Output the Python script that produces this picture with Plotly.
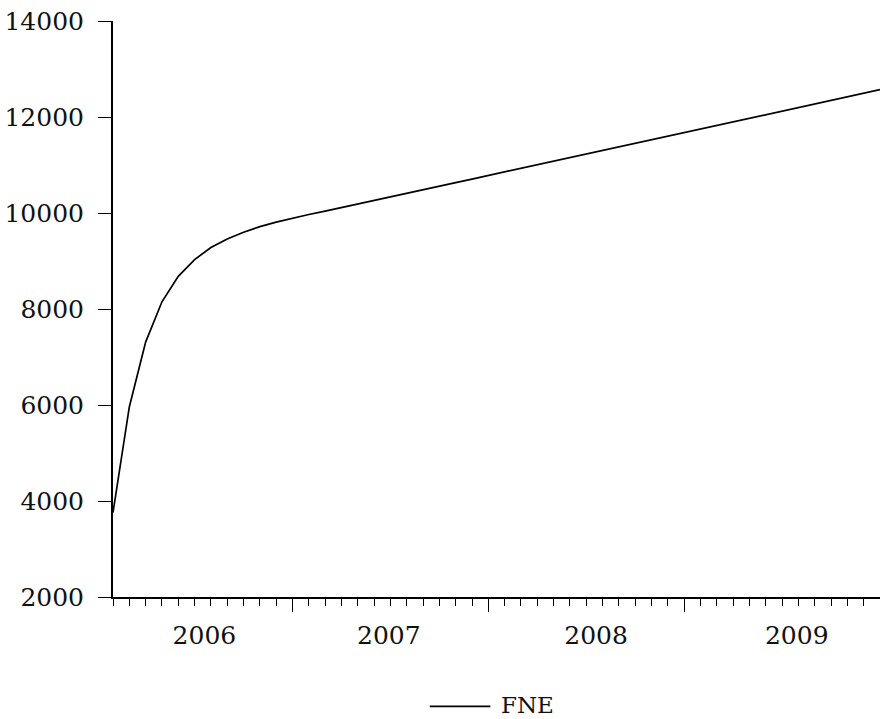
import plotly.graph_objects as go

# Monthly observations, 2006M01 - 2009M12
periods = [f"{yr}M{mo:02d}" for yr in range(2006, 2010) for mo in range(1, 13)]

fne = [
    3760, 5960, 7310, 8150, 8680, 9030, 9280, 9460, 9600, 9715, 9810, 9893,
    9968, 10040, 10112, 10186, 10260, 10334, 10409, 10483, 10558, 10632, 10707, 10781,
    10856, 10930, 11005, 11079, 11154, 11228, 11303, 11377, 11452, 11526, 11601, 11675,
    11750, 11824, 11899, 11973, 12048, 12122, 12197, 12271, 12346, 12420, 12495, 12569,
]

years = ["2006", "2007", "2008", "2009"]
y_ticks = [2000, 4000, 6000, 8000, 10000, 12000, 14000]
series_name = "FNE"

x = list(range(len(periods)))
year_end = [i for i, p in enumerate(periods) if p.endswith("M12")]
# year labels sit within each year's span of observations
label_pos = [5.6, 16.9, 29.6, 41.9]

serif = "DejaVu Serif"
ink = "#111111"

fig = go.Figure()
fig.add_trace(go.Scatter(
    x=x, y=fne, mode="lines", name=series_name,
    line=dict(color="black", width=1.7),
    customdata=periods,
    hovertemplate="%{customdata}: %{y}<extra></extra>",
    showlegend=False,
))
# invisible trace that carries the year-label axis
fig.add_trace(go.Scatter(
    x=[x[0], x[-1]], y=[fne[0], fne[-1]], xaxis="x2", mode="lines",
    line=dict(width=0), showlegend=False, hoverinfo="skip",
))

# legend key drawn below the plot: a long line sample and the series name
fig.add_shape(type="line", xref="paper", yref="paper",
              x0=0.413, x1=0.492, y0=-0.190, y1=-0.190,
              line=dict(color="black", width=1.7))
fig.add_annotation(text=series_name, xref="paper", yref="paper",
                   x=0.503, y=-0.187, xanchor="left", yanchor="middle",
                   showarrow=False, font=dict(family=serif, color=ink, size=23))

fig.update_layout(
    width=880, height=719,
    margin=dict(l=113, r=0, t=21, b=122, autoexpand=False),
    paper_bgcolor="white", plot_bgcolor="white",
    font=dict(family=serif, color=ink, size=25),
    xaxis=dict(
        range=[0, len(periods) - 1], automargin=False,
        showline=True, linecolor="black", linewidth=2,
        showgrid=False, zeroline=False,
        ticks="outside", tickvals=year_end, ticklen=13, tickwidth=1, tickcolor="black",
        showticklabels=False,
        minor=dict(ticks="outside", dtick=1, tick0=0, ticklen=7, tickwidth=1, tickcolor="black",
                   showgrid=False),
    ),
    xaxis2=dict(
        range=[0, len(periods) - 1], overlaying="x", anchor="y", side="bottom",
        automargin=False,
        showline=False, showgrid=False, zeroline=False,
        tickvals=label_pos, ticktext=years, ticks="",
        ticklabelstandoff=21,
        tickfont=dict(family=serif, color=ink, size=25),
    ),
    yaxis=dict(
        range=[2000, 14000], automargin=False,
        tickvals=y_ticks, ticktext=[str(v) for v in y_ticks],
        showline=True, linecolor="black", linewidth=2,
        showgrid=False, zeroline=False,
        ticks="outside", ticklen=13, tickwidth=1, tickcolor="black",
        ticklabelstandoff=9,
        tickfont=dict(family=serif, color=ink, size=25),
    ),
    showlegend=False,
)

fig.write_html("out.html")
